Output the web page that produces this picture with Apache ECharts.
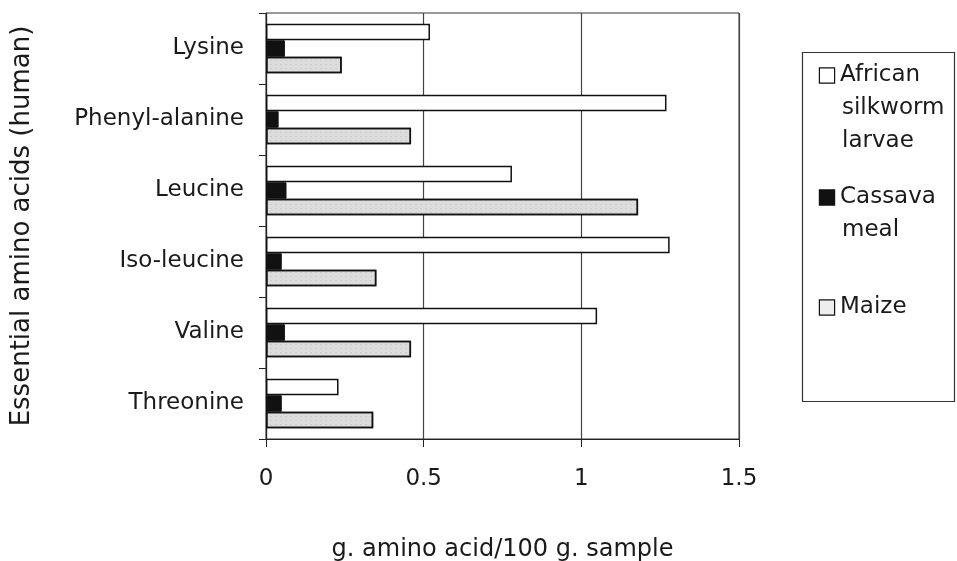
<!DOCTYPE html>
<html>
<head>
<meta charset="utf-8">
<script src="https://cdn.jsdelivr.net/npm/echarts@6/dist/echarts.min.js"></script>
<style>html,body{margin:0;padding:0;background:#fff;}#c{width:957px;height:561px;}</style>
</head>
<body>
<div id="c"></div>
<script>
// Categories bottom to top (ECharts category y-axis starts at bottom)
const categories = ['Threonine', 'Valine', 'Iso-leucine', 'Leucine', 'Phenyl-alanine', 'Lysine'];
const silkworm = [0.23, 1.05, 1.28, 0.78, 1.27, 0.52];
const cassava  = [0.05, 0.06, 0.05, 0.065, 0.04, 0.06];
const maize    = [0.34, 0.46, 0.35, 1.18, 0.46, 0.24];
const xTicks = [0, 0.5, 1, 1.5];
const seriesNames = ['African silkworm larvae', 'Cassava meal', 'Maize'];
const legendLines = {
  'African silkworm larvae': ['African', 'silkworm', 'larvae'],
  'Cassava meal': ['Cassava', 'meal'],
  'Maize': ['Maize']
};
const iconStyle = {
  'African silkworm larvae': 'w',
  'Cassava meal': 'b',
  'Maize': 'g'
};

const FONT = 'DejaVu Sans';
const chart = echarts.init(document.getElementById('c'));

function legendFormatter(name) {
  const lines = legendLines[name];
  return lines.map((l, i) => i === 0 ? '{' + iconStyle[name] + '|}{gap|}{t|' + l + '}' : '{sp|}{t|' + l + '}').join('\n');
}
const richLegend = {
  t: { fontFamily: FONT, fontSize: 23, color: '#1a1a1a', lineHeight: 33 },
  w: { width: 14, height: 14, backgroundColor: '#fff', borderColor: '#111', borderWidth: 1.2 },
  b: { width: 14, height: 14, backgroundColor: '#111', borderColor: '#111', borderWidth: 1.2 },
  g: { width: 14, height: 14, backgroundColor: '#eee', borderColor: '#111', borderWidth: 1.2 },
  gap: { width: 6 },
  sp: { width: 22 }
};
function mkLegend(name, top) {
  return {
    data: [name], left: 814, top: top, padding: 0,
    itemWidth: 0, itemHeight: 0, icon: 'rect',
    selectedMode: false,
    formatter: legendFormatter,
    textStyle: { rich: richLegend }
  };
}

const option = {
  animation: false,
  backgroundColor: '#fff',
  grid: { left: 266, right: 218, top: 13, bottom: 122, show: true, borderColor: '#333', borderWidth: 1,
          containLabel: false, outerBoundsMode: 'none' },
  legend: [
    mkLegend(seriesNames[0], 64),
    mkLegend(seriesNames[1], 186),
    mkLegend(seriesNames[2], 296)
  ],
  graphic: [{
    type: 'rect', silent: true,
    shape: { x: 802.5, y: 52.5, width: 152, height: 349 },
    style: { fill: 'none', stroke: '#333', lineWidth: 1.2 }
  }],
  xAxis: {
    type: 'value', min: 0, max: 1.5, interval: 0.5,
    name: 'g. amino acid/100 g. sample',
    nameLocation: 'middle', nameGap: 99,
    nameTextStyle: { fontFamily: FONT, fontSize: 24, color: '#1a1a1a' },
    axisLine: { show: true, lineStyle: { color: '#222', width: 1.2 } },
    axisTick: { show: true, length: 8, lineStyle: { color: '#222' } },
    axisLabel: { margin: 29, fontFamily: FONT, fontSize: 23, color: '#1a1a1a',
      formatter: v => xTicks.indexOf(v) >= 0 ? String(v) : '' },
    splitLine: { show: true, lineStyle: { color: '#444', width: 1.2 } }
  },
  yAxis: {
    type: 'category', data: categories,
    name: 'Essential amino acids (human)',
    nameLocation: 'middle', nameGap: 231, nameRotate: 90,
    nameTextStyle: { fontFamily: FONT, fontSize: 26, color: '#1a1a1a' },
    axisLine: { show: true, lineStyle: { color: '#222', width: 1.2 } },
    axisTick: { show: true, length: 7, lineStyle: { color: '#222' } },
    axisLabel: { margin: 22, fontFamily: FONT, fontSize: 23, color: '#1a1a1a' },
    splitLine: { show: false }
  },
  series: [
    { name: seriesNames[0], type: 'bar', data: silkworm, barWidth: 16.5, barGap: '0%',
      itemStyle: { color: '#fff', borderColor: '#111', borderWidth: 1.5 } },
    { name: seriesNames[1], type: 'bar', data: cassava, barWidth: 16.5, barGap: '0%',
      itemStyle: { color: '#111', borderColor: '#111', borderWidth: 1 } },
    { name: seriesNames[2], type: 'bar', data: maize, barWidth: 16.5, barGap: '0%',
      itemStyle: { color: '#dcdcdc', borderColor: '#111', borderWidth: 1.5,
        decal: { symbol: 'rect', symbolSize: 0.5, dashArrayX: [2, 3], dashArrayY: [1, 3], color: 'rgba(120,120,120,0.6)', rotation: 0 } } }
  ],
  aria: { enabled: false, decal: { show: false } }
};
chart.setOption(option);
</script>
</body>
</html>
